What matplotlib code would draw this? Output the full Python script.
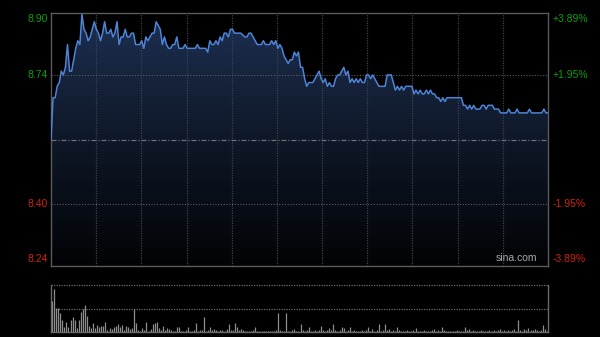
import numpy as np
import matplotlib.pyplot as plt
import matplotlib.transforms as mtransforms
from matplotlib.colors import LinearSegmentedColormap

# price axis: previous close in the middle, +/-3.89% at the edges
prev_close = 8.57
y_min, y_max = 8.237, 8.903
n_minutes = 241

left_labels = ['8.90', '8.74', '8.40', '8.24']
left_values = [8.90, 8.74, 8.40, 8.24]
right_labels = ['+3.89%', '+1.95%', '-1.95%', '-3.89%']
label_colors = ['#0a9f0a', '#0a9f0a', '#d2200c', '#d2200c']

# intraday price (minute index, price)
minutes = [0, 1, 2, 3, 4, 5, 6, 7, 8, 9, 10, 11, 12, 13, 14, 15, 16, 17, 18, 19,
           20, 21, 22, 23, 24, 25, 26, 27, 28, 29, 30, 31, 32, 33, 34, 35, 36, 37, 38, 39,
           40, 41, 42, 43, 44, 45, 46, 47,
           49, 50, 51, 52, 53, 54, 55, 56, 57, 58, 59, 60, 61, 62, 63, 64, 65, 66, 70, 71,
           72, 75, 76, 77, 78, 79, 80, 81, 82, 83, 84, 85, 86, 87, 88, 89, 91, 92, 94, 95, 96,
           97, 99, 100, 102, 103, 104, 106, 107, 108, 109, 110, 111, 112, 113, 115, 116, 117,
           118, 119, 120, 121, 122, 123, 124, 125, 126, 127, 128, 129, 130, 131, 132, 133, 134,
           135, 136, 137, 138, 139, 140, 141, 142, 143, 144,
           145, 146, 147, 148, 149, 150, 151, 152, 153, 154, 155, 156, 157, 158, 159, 162, 163,
           165, 166, 167, 168, 169, 170, 171, 172, 175, 176, 177, 178, 179, 180, 181, 182, 183,
           184, 185, 186, 187, 188, 189, 190, 191, 192,
           199, 200, 201, 202, 203, 204, 205, 206, 208, 209, 210, 211, 212, 214, 215, 217, 218,
           221, 222, 223, 225, 226, 227, 231, 232, 233, 238, 239, 240, 241]
prices = [8.57, 8.68, 8.68, 8.71, 8.72, 8.75, 8.74, 8.76, 8.82, 8.75, 8.75, 8.78, 8.81, 8.83,
          8.82, 8.90, 8.86, 8.85, 8.83, 8.84, 8.86, 8.88, 8.86, 8.85, 8.83, 8.85, 8.88, 8.85,
          8.85, 8.86, 8.84, 8.85, 8.88, 8.82, 8.84, 8.84, 8.86, 8.84, 8.84, 8.85, 8.85, 8.82,
          8.82, 8.82, 8.83, 8.81, 8.84, 8.83,
          8.85, 8.85, 8.88, 8.87, 8.86, 8.82, 8.84, 8.82, 8.81, 8.81, 8.82, 8.82, 8.84, 8.81,
          8.81, 8.81, 8.82, 8.81, 8.81, 8.82, 8.81, 8.81, 8.80, 8.83, 8.82, 8.82, 8.83, 8.82,
          8.84, 8.83, 8.85, 8.85, 8.84, 8.86, 8.86, 8.85, 8.85, 8.85, 8.84, 8.84, 8.85,
          8.85, 8.83, 8.82, 8.82, 8.83, 8.82, 8.82, 8.83, 8.82, 8.83, 8.81, 8.82, 8.81, 8.79,
          8.77, 8.78, 8.78, 8.80, 8.79, 8.80, 8.76, 8.76, 8.73, 8.71, 8.72, 8.72, 8.72, 8.73,
          8.74, 8.75, 8.73, 8.72, 8.73, 8.71, 8.72, 8.71, 8.71, 8.73, 8.74, 8.74, 8.75, 8.76,
          8.74, 8.75,
          8.72, 8.73, 8.72, 8.73, 8.72, 8.73, 8.72, 8.72, 8.74, 8.74, 8.73, 8.74, 8.73, 8.72,
          8.71, 8.71, 8.74, 8.74, 8.72, 8.70, 8.71, 8.70, 8.71, 8.70, 8.71, 8.71, 8.69, 8.70,
          8.69, 8.70, 8.69, 8.69, 8.70, 8.69, 8.70, 8.69, 8.69, 8.68, 8.68, 8.67, 8.68, 8.67,
          8.68,
          8.68, 8.66, 8.66, 8.65, 8.66, 8.65, 8.66, 8.65, 8.65, 8.66, 8.66, 8.65, 8.66, 8.66,
          8.65, 8.65, 8.64, 8.64, 8.65, 8.64, 8.64, 8.65, 8.64, 8.64, 8.65, 8.64, 8.64, 8.65,
          8.64, 8.64]

# volume per minute, top of the volume panel = 100
volume = [65, 91, 52, 52, 40, 26, 11, 22, 11, 26, 31, 26, 8, 26, 43, 48, 57, 33, 13, 8,
          20, 8, 15, 10, 13, 13, 22, 4, 8, 6, 10, 13, 18, 11, 15, 4, 13, 11, 6, 8,
          50, 20, 4, 3, 8, 4, 22, 3, 6, 17, 20, 22, 8, 4, 13, 4, 8, 6, 4, 2,
          3, 10, 10, 3, 3, 4, 11, 3, 3, 4, 20, 3, 4, 4, 31, 3, 4, 10, 4, 6,
          4, 3, 4, 4, 3, 6, 17, 4, 4, 20, 10, 4, 6, 4, 3, 3, 2, 3, 4, 11,
          3, 2, 3, 2, 2, 3, 2, 2, 3, 4, 40, 4, 3, 3, 40, 3, 2, 4, 6, 3,
          3, 17, 4, 3, 4, 10, 3, 2, 4, 3, 4, 13, 4, 3, 4, 8, 4, 17, 4, 3,
          4, 10, 8, 3, 4, 10, 3, 4, 3, 2, 3, 4, 3, 4, 11, 3, 6, 3, 4, 17,
          3, 4, 17, 4, 6, 3, 4, 3, 10, 4, 3, 2, 3, 4, 3, 2, 4, 8, 3, 2,
          3, 4, 3, 2, 3, 4, 6, 3, 4, 3, 11, 4, 2, 3, 2, 3, 2, 4, 3, 2,
          3, 10, 4, 6, 3, 4, 3, 2, 3, 4, 3, 2, 3, 4, 3, 5, 3, 4, 6, 3,
          4, 3, 5, 3, 4, 6, 3, 26, 4, 3, 6, 4, 8, 5, 4, 6, 5, 3, 4, 15,
          6, 3]

plt.rcParams['font.family'] = ['Liberation Sans', 'DejaVu Sans']

fig = plt.figure(figsize=(6, 3.37), dpi=100, facecolor='black')
W, H = 600, 337

# ---- price panel
ax = fig.add_axes([51 / W, 1 - 266 / H, 497 / W, 253 / H])
ax.set_facecolor('black')
ax.set_xlim(0, n_minutes)
ax.set_ylim(y_min, y_max)
ax.set_xticks([])
ax.set_yticks([])
for s in ax.spines.values():
    s.set_color('#5a5a5a')
    s.set_linewidth(1.0)

# grid (drawn over the fill, as in the reference)
for k in range(1, 11):
    ax.axvline(k * n_minutes / 11, color='#3c4048', lw=0.9, ls=(0, (1, 1)), zorder=3)
for v in [8.74, 8.40]:
    ax.axhline(v, color='#585c62', lw=0.8, ls=(0, (1, 1.5)), zorder=3)
ax.axhline(prev_close, color='#6a6f78', lw=0.9, ls=(0, (4, 1.5, 1, 1.5)), zorder=4)

# gradient fill under the price line
fill = ax.fill_between(minutes, prices, y_min, facecolor='none', edgecolor='none')
cmap = LinearSegmentedColormap.from_list('sina', ['#1d2f52', '#0f1828', '#020305'])
grad = np.linspace(0, 1, 256).reshape(-1, 1)
img = ax.imshow(grad, cmap=cmap, aspect='auto', extent=[0, n_minutes, y_min, y_max],
                origin='upper', zorder=2)
img.set_clip_path(fill.get_paths()[0], transform=ax.transData)
ax.set_xlim(0, n_minutes)
ax.set_ylim(y_min, y_max)

ax.plot(minutes, prices, color='#4d84d6', lw=1.1, zorder=5)

# axis labels
trans = mtransforms.blended_transform_factory(ax.transAxes, ax.transData)
for i, (lab, val, rlab, col) in enumerate(zip(left_labels, left_values, right_labels, label_colors)):
    if i == 0:
        va, yv = 'top', y_max - 0.002
    elif i == len(left_labels) - 1:
        va, yv = 'bottom', y_min + 0.004
    else:
        va, yv = 'center', val
    ax.text(-0.007, yv, lab, transform=trans, ha='right', va=va, color=col, fontsize=7.5)
    ax.text(1.010, yv, rlab, transform=trans, ha='left', va=va, color=col, fontsize=7.5)

ax.text(0.978, 0.012, 'sina.com', transform=ax.transAxes, ha='right', va='bottom',
        color='#a8a8a8', fontsize=7.5, zorder=6)

# ---- volume panel
axv = fig.add_axes([51 / W, 1 - 332 / H, 497 / W, 47 / H])
axv.set_facecolor('black')
axv.set_xlim(-0.5, n_minutes + 0.5)
axv.set_ylim(0, 100)
axv.set_xticks([])
axv.set_yticks([])
axv.spines['top'].set_visible(False)
for s in ['left', 'right', 'bottom']:
    axv.spines[s].set_color('#6a6a6a')
    axv.spines[s].set_linewidth(1.0)
for v in [100, 50]:
    axv.axhline(v, color='#6a6a6a', lw=0.9, ls=(0, (1, 1)), clip_on=False)
axv.vlines(np.arange(len(volume)), 0, volume, color='#8e8e8e', lw=0.9)

fig.savefig('out.png', dpi=100, facecolor='black')
